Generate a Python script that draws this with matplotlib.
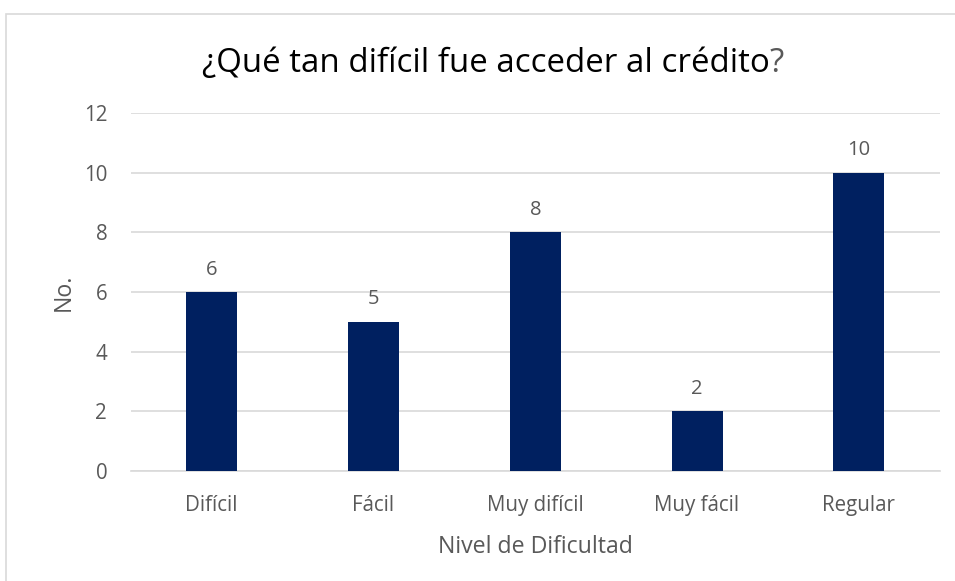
import matplotlib.pyplot as plt
from matplotlib.patches import Rectangle

categories = ["Difícil", "Fácil", "Muy difícil", "Muy fácil", "Regular"]
counts = [6, 5, 8, 2, 10]
y_ticks = [0, 2, 4, 6, 8, 10, 12]

TITLE_MAIN = "¿Qué tan difícil fue acceder al crédito"
TITLE_END = "?"
X_LABEL = "Nivel de Dificultad"
Y_LABEL = "No."

BAR_COLOR = "#002060"
GRID_COLOR = "#d9d9d9"
TEXT_COLOR = "#595959"

plt.rcParams["font.family"] = ["Open Sans", "DejaVu Sans"]

fig = plt.figure(figsize=(9.55, 5.81), dpi=100)
ax = fig.add_axes([0.137, 0.189, 0.847, 0.6165])

# outer chart frame (cut off at right and bottom like the screenshot)
frame = Rectangle(
    (6 / 955, -0.2), 1.2, 1.2 - 14 / 581,
    transform=fig.transFigure, fill=False,
    edgecolor=GRID_COLOR, linewidth=1.2, clip_on=False,
)
fig.patches.append(frame)

x = range(len(categories))
bars = ax.bar(x, counts, width=0.315, color=BAR_COLOR, zorder=3)
ax.bar_label(bars, padding=9, fontsize=14.5, color=TEXT_COLOR)

ax.set_xlim(-0.5, len(categories) - 0.5)
ax.set_ylim(0, 12)
ax.set_yticks(y_ticks)
ax.set_xticks(list(x))
ax.set_xticklabels(categories)

ax.tick_params(axis="both", length=0, labelsize=14.8, labelcolor=TEXT_COLOR)
ax.tick_params(axis="y", pad=17)
ax.tick_params(axis="x", pad=17)

ax.grid(axis="y", color=GRID_COLOR, linewidth=1.2, zorder=0)
for side in ["top", "right", "left"]:
    ax.spines[side].set_visible(False)
ax.spines["bottom"].set_color(GRID_COLOR)
ax.spines["bottom"].set_linewidth(1.2)

ax.set_xlabel(X_LABEL, fontsize=16.7, color=TEXT_COLOR, labelpad=14)
ax.set_ylabel(Y_LABEL, fontsize=16.7, color=TEXT_COLOR, labelpad=6)

# title: main part in black, closing "?" in grey, centred as one line
title_y = 1 - 63 / 581
main = fig.text(0.5, title_y, TITLE_MAIN, fontsize=23.8, color="black",
                ha="left", va="center")
end = fig.text(0.5, title_y, TITLE_END, fontsize=23.8, color=TEXT_COLOR,
               ha="left", va="center")
fig.canvas.draw()
renderer = fig.canvas.get_renderer()
w_main = main.get_window_extent(renderer).width / fig.bbox.width
w_end = end.get_window_extent(renderer).width / fig.bbox.width
start = 493 / 955 - (w_main + w_end) / 2
main.set_x(start)
end.set_x(start + w_main)

fig.savefig("out.png", dpi=100)
